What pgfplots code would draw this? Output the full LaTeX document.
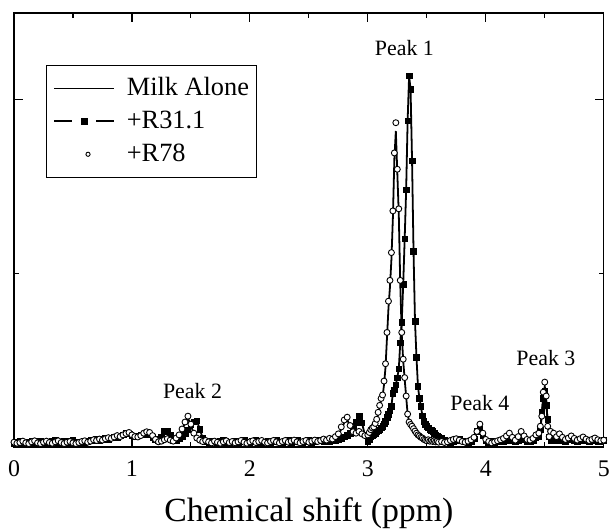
\documentclass[border=0pt]{standalone}
\usepackage{pgfplots}
\pgfplotsset{compat=1.18}
\usepackage{pgfplotstable}
\usepackage{fontspec}
\setmainfont{Liberation Serif}

\pgfplotsset{
  r31legend/.style={legend image code/.code={\draw[##1, mark=none, line width=1.8pt, dash pattern=on 18bp off 24bp] (0bp,0bp) -- (60bp,0bp); \draw[##1, only marks] plot coordinates {(30bp,0bp)};}},
  r78legend/.style={legend image code/.code={\draw[##1, mark size=2.1bp] plot coordinates {(34bp,0bp)};}},
}

\pgfplotstableread{
x m s c
0.000 0.012 0.010 0.014
0.025 0.015 0.013 0.011
0.050 0.010 0.016 0.013
0.075 0.013 0.012 0.017
0.100 0.016 0.009 0.012
0.125 0.011 0.014 0.010
0.150 0.014 0.017 0.015
0.175 0.012 0.011 0.018
0.200 0.009 0.013 0.012
0.225 0.013 0.016 0.010
0.250 0.016 0.012 0.014
0.275 0.012 0.010 0.017
0.300 0.014 0.015 0.013
0.325 0.017 0.018 0.011
0.350 0.013 0.020 0.015
0.375 0.011 0.014 0.018
0.400 0.015 0.011 0.013
0.425 0.012 0.016 0.010
0.450 0.010 0.013 0.014
0.475 0.014 0.017 0.016
0.500 0.016 0.019 0.012
0.525 0.013 0.015 0.010
0.550 0.011 0.012 0.013
0.575 0.014 0.010 0.016
0.600 0.017 0.014 0.018
0.625 0.015 0.017 0.014
0.650 0.018 0.020 0.017
0.675 0.021 0.018 0.021
0.700 0.019 0.022 0.019
0.725 0.022 0.020 0.023
0.750 0.024 0.023 0.020
0.775 0.021 0.025 0.024
0.800 0.025 0.022 0.027
0.825 0.028 0.027 0.025
0.850 0.026 0.030 0.029
0.875 0.031 0.028 0.033
0.900 0.034 0.033 0.030
0.925 0.037 0.036 0.035
0.950 0.040 0.041 0.039
0.975 0.036 0.038 0.042
1.000 0.031 0.033 0.035
1.025 0.028 0.030 0.030
1.050 0.030 0.032 0.029
1.075 0.034 0.035 0.033
1.100 0.038 0.036 0.040
1.125 0.041 0.037 0.044
1.150 0.039 0.035 0.042
1.175 0.030 0.028 0.033
1.200 0.020 0.022 0.022
1.225 0.016 0.018 0.015
1.250 0.019 0.030 0.017
1.275 0.024 0.046 0.021
1.300 0.027 0.047 0.024
1.325 0.022 0.035 0.020
1.350 0.019 0.018 0.017
1.375 0.024 0.020 0.026
1.400 0.033 0.025 0.035
1.425 0.048 0.031 0.052
1.450 0.070 0.038 0.072
1.475 0.084 0.050 0.089
1.500 0.062 0.064 0.066
1.525 0.038 0.073 0.040
1.550 0.024 0.076 0.026
1.575 0.018 0.052 0.020
1.600 0.015 0.026 0.016
1.625 0.017 0.016 0.019
1.650 0.014 0.013 0.015
1.675 0.016 0.017 0.012
1.700 0.013 0.015 0.017
1.725 0.015 0.012 0.014
1.750 0.018 0.016 0.011
1.775 0.014 0.019 0.015
1.800 0.012 0.014 0.018
1.825 0.016 0.011 0.013
1.850 0.013 0.015 0.016
1.875 0.011 0.018 0.012
1.900 0.015 0.013 0.015
1.925 0.018 0.016 0.019
1.950 0.014 0.020 0.014
1.975 0.012 0.015 0.011
2.000 0.016 0.012 0.015
2.025 0.013 0.016 0.018
2.050 0.015 0.019 0.013
2.075 0.018 0.014 0.016
2.100 0.014 0.011 0.019
2.125 0.011 0.015 0.014
2.150 0.015 0.018 0.012
2.175 0.017 0.013 0.016
2.200 0.013 0.016 0.019
2.225 0.016 0.020 0.015
2.250 0.019 0.015 0.012
2.275 0.015 0.012 0.016
2.300 0.012 0.016 0.019
2.325 0.016 0.019 0.014
2.350 0.014 0.014 0.017
2.375 0.017 0.017 0.020
2.400 0.013 0.020 0.015
2.425 0.016 0.015 0.012
2.450 0.019 0.012 0.016
2.475 0.015 0.016 0.019
2.500 0.012 0.019 0.014
2.525 0.016 0.014 0.017
2.550 0.018 0.017 0.020
2.575 0.014 0.021 0.016
2.600 0.017 0.018 0.019
2.625 0.020 0.015 0.023
2.650 0.018 0.019 0.020
2.675 0.022 0.017 0.025
2.700 0.020 0.021 0.023
2.725 0.026 0.019 0.030
2.750 0.035 0.023 0.038
2.775 0.052 0.026 0.058
2.800 0.070 0.030 0.078
2.825 0.080 0.034 0.086
2.850 0.058 0.040 0.062
2.875 0.040 0.052 0.044
2.900 0.036 0.072 0.040
2.925 0.040 0.089 0.045
2.950 0.034 0.070 0.038
2.975 0.030 0.035 0.033
3.000 0.033 0.015 0.035
3.0125 0.040 0.022 0.042
3.025 0.048 0.030 0.050
3.0375 0.052 0.033 0.055
3.050 0.056 0.036 0.058
3.0625 0.064 0.040 0.068
3.075 0.076 0.045 0.080
3.0875 0.095 0.048 0.100
3.100 0.115 0.050 0.120
3.1125 0.135 0.055 0.140
3.125 0.145 0.060 0.150
3.1375 0.180 0.067 0.190
3.150 0.230 0.075 0.240
3.1625 0.315 0.086 0.330
3.175 0.400 0.095 0.420
3.1875 0.460 0.105 0.480
3.200 0.540 0.118 0.560
3.2125 0.660 0.155 0.680
3.225 0.830 0.165 0.847
3.2375 0.910 0.180 0.934
3.250 0.790 0.200 0.800
3.2625 0.670 0.225 0.686
3.275 0.470 0.300 0.480
3.2875 0.325 0.360 0.330
3.300 0.248 0.468 0.253
3.3125 0.195 0.600 0.200
3.325 0.145 0.741 0.147
3.3375 0.095 0.940 0.095
3.350 0.073 1.069 0.072
3.3625 0.066 1.030 0.065
3.375 0.060 0.825 0.060
3.3875 0.052 0.563 0.053
3.400 0.046 0.362 0.046
3.4125 0.040 0.259 0.040
3.425 0.035 0.175 0.035
3.4375 0.031 0.140 0.032
3.450 0.028 0.118 0.028
3.4625 0.025 0.090 0.026
3.475 0.022 0.075 0.022
3.4875 0.021 0.066 0.020
3.500 0.019 0.060 0.018
3.5125 0.020 0.055 0.021
3.525 0.018 0.050 0.017
3.5375 0.017 0.048 0.019
3.550 0.019 0.046 0.016
3.5625 0.016 0.040 0.018
3.575 0.018 0.035 0.015
3.5875 0.015 0.032 0.017
3.600 0.017 0.030 0.014
3.625 0.014 0.025 0.016
3.650 0.016 0.020 0.013
3.675 0.013 0.017 0.015
3.700 0.016 0.014 0.019
3.725 0.019 0.017 0.022
3.750 0.021 0.019 0.024
3.775 0.018 0.022 0.020
3.800 0.015 0.018 0.016
3.825 0.013 0.015 0.014
3.850 0.016 0.013 0.017
3.875 0.019 0.016 0.021
3.900 0.026 0.024 0.028
3.925 0.040 0.045 0.045
3.950 0.058 0.052 0.066
3.975 0.036 0.032 0.040
4.000 0.020 0.018 0.022
4.025 0.015 0.014 0.016
4.050 0.013 0.016 0.012
4.075 0.016 0.013 0.015
4.100 0.014 0.015 0.018
4.125 0.017 0.018 0.021
4.150 0.020 0.016 0.025
4.175 0.024 0.019 0.032
4.200 0.030 0.022 0.040
4.225 0.024 0.018 0.028
4.250 0.018 0.016 0.020
4.275 0.022 0.020 0.030
4.300 0.028 0.024 0.045
4.325 0.024 0.021 0.032
4.350 0.018 0.017 0.022
4.375 0.017 0.015 0.020
4.400 0.022 0.020 0.025
4.425 0.030 0.028 0.035
4.450 0.035 0.030 0.040
4.4625 0.050 0.050 0.060
4.475 0.090 0.100 0.089
4.4875 0.150 0.140 0.158
4.500 0.175 0.160 0.187
4.5125 0.140 0.120 0.147
4.525 0.065 0.080 0.060
4.5375 0.032 0.030 0.030
4.550 0.035 0.020 0.045
4.575 0.030 0.018 0.040
4.600 0.024 0.020 0.030
4.625 0.028 0.024 0.038
4.650 0.022 0.020 0.028
4.675 0.019 0.017 0.022
4.700 0.022 0.021 0.026
4.725 0.026 0.024 0.032
4.750 0.021 0.019 0.025
4.775 0.018 0.016 0.020
4.800 0.021 0.020 0.024
4.825 0.025 0.023 0.029
4.850 0.020 0.018 0.023
4.875 0.017 0.015 0.019
4.900 0.020 0.019 0.022
4.925 0.023 0.021 0.026
4.950 0.019 0.017 0.021
4.975 0.016 0.015 0.018
5.000 0.018 0.019 0.020
}\spec

\begin{document}
\begin{tikzpicture}
\begin{axis}[
  width=591bp, height=435bp, scale only axis,
  xmin=0, xmax=5, ymin=0, ymax=1.25,
  xtick={0,1,2,3,4,5},
  minor xtick={0.5,1.5,2.5,3.5,4.5},
  ytick={1}, minor ytick={0.5}, yticklabels={},
  tick align=inside,
  major tick length=9bp, minor tick length=5bp,
  axis line style={line width=1.2pt},
  every tick/.style={black, line width=1.2pt},
  tick label style={font=\fontsize{24}{28}\selectfont},
  xticklabel style={yshift=-10bp},
  /pgf/number format/assume math mode=true,
  xlabel={Chemical shift (ppm)},
  xlabel style={font=\fontsize{34}{40}\selectfont, at={(axis description cs:0.5,0)}, anchor=center, yshift=-66bp},
  legend cell align=left,
  legend style={at={(0.054,0.880)}, anchor=north west, draw=black, line width=0.8pt,
    font=\fontsize{26.5}{30}\selectfont, inner xsep=7bp, inner ysep=10bp,
    row sep=7bp, column sep=12bp,
    nodes={inner sep=0bp, text height=20bp, text depth=6bp}},
  legend image code/.code={\draw[mark repeat=2,mark phase=2,#1, line width=1.8pt] plot coordinates {(0bp,0bp) (30bp,0bp) (60bp,0bp)};},
]
\addplot[black, line width=1.8pt, no marks] table[x=x, y=m] {\spec};
\addlegendentry{Milk Alone}
\addplot[black, line width=1.8pt, mark=square*, mark size=2.8bp, mark options={solid, fill=black, line width=0.5pt}, r31legend]
  table[x=x, y=s] {\spec};
\addlegendentry{+R31.1}
\addplot[black, only marks, mark=*, mark size=3bp, mark options={fill=white, draw=black, line width=0.9pt}, r78legend]
  table[x=x, y=c] {\spec};
\addlegendentry{+R78}
\node[font=\fontsize{22}{26}\selectfont] at (axis cs:3.31,1.149) {Peak 1};
\node[font=\fontsize{22}{26}\selectfont] at (axis cs:1.514,0.161) {Peak 2};
\node[font=\fontsize{22}{26}\selectfont] at (axis cs:4.51,0.256) {Peak 3};
\node[font=\fontsize{22}{26}\selectfont] at (axis cs:3.95,0.126) {Peak 4};
\end{axis}
\path ([shift={(-14bp,-85bp)}]current axis.south west) rectangle ([shift={(8bp,13bp)}]current axis.north east);
\end{tikzpicture}
\end{document}
